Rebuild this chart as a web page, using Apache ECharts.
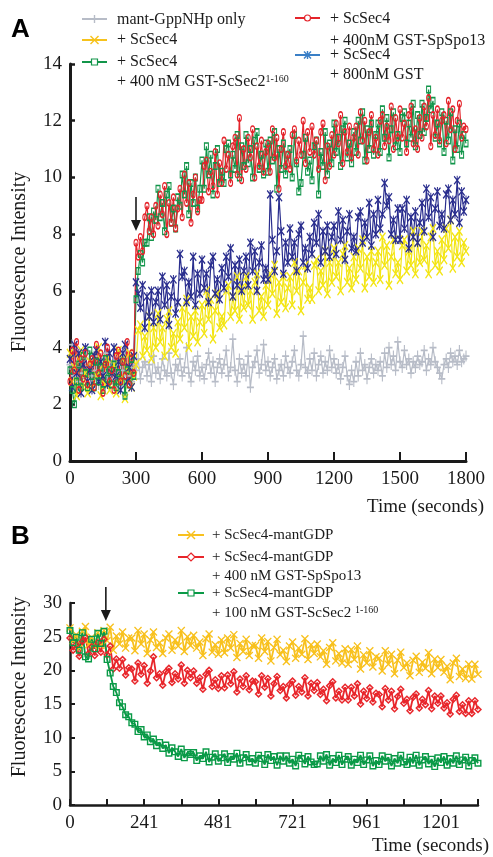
<!DOCTYPE html>
<html><head><meta charset="utf-8">
<script src="https://cdn.jsdelivr.net/npm/echarts@6/dist/echarts.min.js"></script>
<style>html,body{margin:0;padding:0;background:#fff}#c{width:493px;height:857px}</style>
</head><body><div id="c"></div>
<script>
// ---------- Panel A (time step 10 s, 0..1800) ----------
const STEP_A = 10;
const xTicksA = [0, 300, 600, 900, 1200, 1500, 1800];
const grayA = [
3.4,4.1,3.0,3.3,2.8,3.5,3.1,3.6,2.9,3.3,
3.0,3.7,3.2,2.7,3.4,3.1,3.8,3.0,3.3,2.9,
3.5,3.1,2.6,3.4,3.2,3.9,3.0,3.3,2.8,3.4,
3.2,3.6,2.9,3.3,3.5,3.0,3.4,2.8,3.7,3.1,
3.3,2.9,3.6,3.2,3.0,3.8,3.1,2.7,3.4,3.2,
3.6,3.0,3.3,4.0,3.1,2.8,3.5,3.2,3.7,3.0,
3.3,2.9,3.4,3.8,3.1,3.5,2.8,3.3,3.6,3.1,
3.4,3.9,3.0,3.3,4.3,3.2,2.8,3.6,3.1,3.4,
3.0,3.7,2.6,3.3,3.5,3.9,3.1,3.4,4.1,3.2,
3.5,3.0,3.3,3.6,2.9,3.2,3.4,3.0,3.7,3.3,
3.1,3.5,3.9,3.2,3.0,3.4,4.4,3.3,3.1,3.6,
3.2,3.8,3.0,3.4,3.7,3.1,3.5,3.2,3.9,3.3,
3.6,3.1,3.4,2.9,3.3,3.7,3.0,2.7,3.2,2.8,
3.5,3.0,3.8,3.2,3.4,2.9,3.3,3.6,3.1,3.4,
3.2,3.5,3.0,3.8,3.3,4.0,3.4,3.7,3.2,4.2,
3.5,3.3,3.9,3.4,3.6,3.1,3.5,3.3,3.7,3.4,
3.5,3.9,3.2,3.6,3.4,4.0,3.5,3.3,3.1,2.9,
3.4,3.6,3.3,3.8,3.5,3.7,3.4,3.9,3.5,3.6,
3.7];
const yellowA = [
3.8,2.8,3.3,2.3,3.6,3.9,2.6,3.1,2.4,3.5,
2.6,3.7,3.0,4.0,2.3,3.4,2.7,3.6,2.5,3.2,
3.4,2.4,3.9,2.9,3.6,2.2,3.2,3.8,2.6,3.0,
3.4,4.6,4.8,3.7,4.4,3.9,5.1,3.6,4.7,4.0,
5.2,4.2,4.7,3.7,5.0,5.3,4.0,4.5,3.8,4.9,
4.3,5.4,4.7,5.7,4.0,5.1,4.4,5.3,4.2,4.9,
5.5,4.5,6.0,5.0,5.7,4.3,5.3,5.9,4.7,5.1,
4.8,6.0,6.2,5.1,5.8,5.3,6.5,5.0,6.1,5.4,
6.5,5.5,6.0,5.0,6.3,6.6,5.3,5.8,5.1,6.2,
5.5,6.6,5.9,6.9,5.2,6.3,5.6,6.5,5.4,6.1,
6.5,5.5,7.0,6.0,6.7,5.3,6.3,6.9,5.7,6.1,
5.7,6.9,7.1,6.0,6.7,6.2,7.4,5.9,7.0,6.3,
7.5,6.5,7.0,6.0,7.3,7.6,6.3,6.8,6.1,7.2,
6.4,7.5,6.8,7.8,6.1,7.2,6.5,7.4,6.3,7.0,
7.4,6.4,7.9,6.9,7.6,6.2,7.2,7.8,6.6,7.0,
6.4,7.6,7.8,6.7,7.4,6.9,8.1,6.6,7.7,7.0,
8.1,7.1,7.6,6.6,7.9,8.2,6.9,7.4,6.7,7.8,
7.1,8.2,7.5,8.5,6.8,7.9,7.2,8.1,7.0,7.7,
7.4];
const blueA = [
3.6,2.6,4.1,3.1,3.8,2.4,3.4,4.0,2.8,3.2,
2.5,3.7,3.9,2.8,3.5,3.0,4.2,2.7,3.8,3.1,
4.0,3.0,3.5,2.5,3.8,4.1,2.8,3.3,2.6,3.7,
6.3,5.9,5.4,6.2,4.7,5.8,5.1,6.0,4.9,5.6,
6.0,5.0,6.5,5.5,6.2,4.8,5.8,6.4,5.2,5.6,
7.3,6.5,6.7,5.6,6.3,5.8,7.2,5.5,6.6,5.9,
7.1,6.1,6.6,5.6,6.9,7.2,5.9,6.4,5.7,6.8,
6.1,7.2,6.5,7.5,5.8,6.9,6.2,7.1,6.0,6.7,
7.2,6.2,7.7,6.7,7.4,6.0,7.0,7.6,6.4,6.8,
6.4,9.4,7.8,6.7,7.4,9.3,8.1,6.6,7.7,7.0,
8.2,7.2,7.7,6.7,8.0,8.3,7.0,7.5,6.8,7.9,
7.3,8.4,7.7,8.7,7.0,8.1,7.4,8.3,7.2,7.9,
8.3,7.3,8.8,7.8,8.5,7.1,8.1,8.7,7.5,7.9,
7.4,8.6,8.8,7.7,8.4,7.9,9.1,7.6,8.7,8.0,
9.2,8.2,8.7,9.8,9.0,9.3,8.0,8.5,7.8,8.9,
7.8,8.9,8.2,9.2,7.5,8.6,7.9,8.8,7.7,8.4,
9.1,8.1,9.6,8.6,9.3,7.9,8.9,9.5,8.3,8.7,
8.2,9.4,9.6,8.5,9.2,8.7,9.9,8.4,9.5,8.8,
9.2];
const greenA = [
3.2,2.5,2.0,2.8,3.4,2.6,3.7,3.1,2.6,3.9,
3.0,2.6,3.5,2.8,3.3,2.5,3.6,2.9,3.2,2.7,
3.4,2.6,3.1,2.8,3.5,2.3,3.2,2.7,3.6,3.0,
5.7,6.7,7.3,7.0,7.7,7.7,8.6,7.9,8.8,8.5,
9.6,8.6,9.1,8.1,9.4,9.7,8.4,8.9,8.2,9.3,
9.0,10.1,9.4,10.4,8.7,9.8,9.1,10.0,8.9,9.6,
10.6,9.6,11.1,10.1,10.8,9.4,10.4,11.0,9.8,10.2,
9.8,11.0,11.2,10.1,10.8,10.3,11.5,10.0,11.1,10.4,
11.5,10.5,11.0,10.0,11.3,11.6,10.3,10.8,10.1,11.2,
10.2,11.3,10.6,11.6,9.6,11.0,10.3,11.2,10.1,10.8,
11.0,10.0,11.5,10.5,9.5,9.8,10.8,11.4,10.2,10.6,
9.9,11.1,11.3,9.4,10.9,10.4,11.6,10.1,11.2,10.5,
11.9,10.9,11.4,10.4,11.7,12.0,10.7,11.2,10.5,11.6,
10.9,12.0,11.3,12.3,10.6,11.7,11.0,11.9,10.8,11.5,
11.9,10.9,12.4,11.4,12.1,10.7,11.7,12.3,11.1,11.5,
10.9,12.1,12.3,11.2,11.9,11.4,12.6,11.1,12.2,11.5,
12.6,11.6,12.1,13.1,12.4,12.7,11.4,11.9,11.2,12.3,
10.9,12.0,11.3,12.3,10.6,11.7,11.0,11.9,10.8,11.5,
11.2];
const redA = [
2.8,3.9,3.2,4.2,2.5,3.6,2.9,3.8,2.7,3.4,
3.6,2.6,4.1,3.1,3.8,2.4,3.4,4.0,2.8,3.2,
2.5,3.7,3.9,2.8,3.5,3.0,4.2,2.7,3.8,3.1,
7.7,7.2,7.9,7.4,8.6,9.0,8.1,8.6,8.0,9.0,
8.3,9.4,8.7,9.7,8.0,9.1,8.4,9.3,8.2,8.9,
9.6,8.6,10.1,9.1,9.8,8.4,9.4,10.0,8.8,9.2,
9.2,10.4,10.6,9.5,10.2,9.7,10.9,9.4,10.5,9.8,
11.3,10.3,10.8,9.8,11.1,11.4,10.1,12.1,9.9,11.0,
10.3,11.4,10.7,11.7,10.0,11.1,10.4,11.3,10.2,10.9,
11.2,10.2,11.7,10.7,11.4,9.6,11.0,11.6,10.4,10.8,
10.3,11.5,11.7,10.6,11.3,10.8,12.0,10.5,11.6,10.9,
11.8,10.8,11.3,10.3,11.6,11.9,9.9,11.1,10.4,11.5,
10.8,11.9,11.2,12.2,10.5,11.6,10.9,11.8,10.7,11.4,
11.8,10.8,12.3,11.3,12.0,10.6,11.6,12.2,11.0,11.4,
10.8,12.0,12.2,11.1,11.8,11.3,12.5,11.0,12.1,11.4,
12.4,11.4,11.9,10.9,12.2,12.5,11.2,11.7,11.0,12.1,
11.4,12.5,11.8,12.8,11.1,12.2,11.5,12.4,11.3,12.0,
12.2,11.2,12.7,11.7,12.4,11.0,12.0,12.6,11.4,11.8,
11.7];

// ---------- Panel B (time step 10 s, 0..1320) ----------
const STEP_B = 10;
const xTickLabelsB = ['0', '241', '481', '721', '961', '1201'];
const yellowB = [
26.3,24.4,25.3,23.3,25.8,26.5,23.8,24.9,23.5,25.6,
23.7,25.9,24.4,26.4,23.0,25.1,23.9,25.7,23.3,24.8,
24.8,22.9,25.9,23.9,25.4,22.5,24.5,25.7,23.4,24.1,
22.5,24.8,25.4,23.0,24.5,23.6,25.9,22.8,25.0,23.7,
25.2,23.3,24.2,22.2,24.7,25.4,22.7,23.8,22.4,24.5,
22.6,24.8,23.3,25.3,21.9,24.0,22.8,24.6,22.2,23.7,
23.7,21.8,24.8,22.8,24.3,21.4,23.4,24.6,22.3,23.0,
21.3,23.6,24.2,21.8,23.3,22.4,24.7,21.6,23.8,22.5,
23.9,22.0,22.9,20.9,23.4,24.1,21.4,22.5,21.1,23.2,
20.9,23.1,21.6,23.6,20.2,22.3,21.1,22.9,20.5,22.0,
21.8,19.9,22.9,20.9,22.4,19.5,21.5,22.7,20.4,21.1,
19.2,21.5,22.1,19.7,21.2,20.3,22.6,19.5,21.7,20.4,
21.6,19.7,20.6,18.6,21.1,21.8,19.1,20.2,18.8,20.9,
18.7,20.9,19.4];
const redB = [
24.8,23.0,23.8,22.1,24.3,24.9,22.5,23.5,22.2,24.1,
22.7,24.6,22.3,23.6,20.2,21.7,20.3,21.6,19.3,20.4,
20.2,18.4,21.1,19.4,20.7,18.1,19.9,22.0,18.9,19.5,
17.8,19.8,20.3,18.2,19.5,18.7,20.8,18.1,20.0,18.9,
19.9,18.1,18.9,17.2,19.4,20.0,17.6,18.6,17.3,19.2,
17.4,19.3,18.0,19.8,16.8,18.7,17.6,19.2,17.1,18.4,
18.3,16.5,19.2,17.5,18.8,16.2,18.0,19.1,17.0,17.6,
15.9,17.9,18.4,16.3,17.6,16.8,18.9,16.2,18.1,17.0,
18.2,16.4,17.2,15.5,17.7,18.3,15.9,16.9,15.6,17.5,
15.6,17.5,16.2,18.0,15.0,16.9,15.8,17.4,15.3,16.6,
16.4,14.6,17.3,15.6,16.9,14.3,16.1,17.2,15.1,15.7,
14.0,16.0,16.5,14.4,15.7,14.9,17.0,14.3,16.2,15.1,
16.2,14.4,15.2,13.5,15.7,16.3,13.9,14.9,13.6,15.5,
13.6,15.5,14.2];
const greenB = [
25.9,24.1,24.9,23.0,25.6,22.0,21.7,24.6,23.2,25.5,
24.0,25.8,21.6,19.6,17.6,16.7,15.2,14.6,13.4,13.1,
12.2,12.0,10.9,11.2,10.1,10.4,9.4,9.8,8.8,9.3,
8.4,8.9,7.7,8.5,7.9,7.2,8.3,7.0,7.8,7.5,
7.8,6.6,7.3,6.9,7.9,6.4,7.1,7.6,6.5,7.0,
7.6,6.3,7.2,6.8,7.7,6.2,7.0,7.5,6.4,6.9,
6.2,7.4,6.9,6.0,7.5,6.6,7.2,5.9,7.3,6.5,
7.3,6.2,6.8,5.8,7.4,6.9,6.1,7.2,6.4,6.0,
6.1,7.3,6.5,7.5,5.9,6.9,6.3,7.4,6.0,6.8,
7.2,5.9,6.8,6.3,7.4,6.0,6.7,7.3,5.8,6.6,
6.0,7.3,6.5,7.1,5.8,6.9,6.2,7.4,6.4,6.0,
7.1,6.2,7.4,5.9,6.7,7.2,6.1,6.8,5.7,7.0,
6.3,7.2,5.9,6.9,6.2,7.3,6.0,6.7,7.1,5.8,
6.6,7.0,6.2];

const FONT = "'Liberation Serif','Times New Roman',serif";
const SANS = "'Liberation Sans',Arial,sans-serif";
const INK = '#1a1a1a';

const SYM = {
  plus: 'path://M4.2,0H5.8V4.2H10V5.8H5.8V10H4.2V5.8H0V4.2H4.2Z',
  cross: 'path://M0,1.2L1.2,0L5,3.8L8.8,0L10,1.2L6.2,5L10,8.8L8.8,10L5,6.2L1.2,10L0,8.8L3.8,5Z',
  star: 'path://M0,1.2L1.2,0L5,3.8L8.8,0L10,1.2L6.2,5L10,8.8L8.8,10L5,6.2L1.2,10L0,8.8L3.8,5ZM4.3,0H5.7V10H4.3Z',
  square: 'path://M0,0H10V10H0ZM2,2V8H8V2Z',
  circle: 'path://M5,0A5,5,0,1,1,5,10A5,5,0,1,1,5,0ZM5,2A3,3,0,1,0,5,8A3,3,0,1,0,5,2Z',
  diamond: 'path://M5,0L10,5L5,10L0,5ZM5,2.6L2.6,5L5,7.4L7.4,5Z'
};

const C = {
  gray: '#b7bcc7', yellowA: '#f3e514', navy: '#2a2e8e', green: '#12954a', red: '#e4242b',
  legYellow: '#f6c21c', legBlue: '#3a7fc6',
  yellowB: '#f8c11e', redB: '#e8262b', greenB: '#0a9a47'
};

function pairs(arr, step) { return arr.map((v, i) => [i * step, v]); }
function ser(name, data, step, grid, color, symbol, size, lw) {
  return {
    name, type: 'line', xAxisIndex: grid, yAxisIndex: grid,
    data: pairs(data, step), symbol: symbol, symbolSize: size, showAllSymbol: true,
    lineStyle: { width: lw || 1, color }, itemStyle: { color }, emphasis: { disabled: true },
    animation: false
  };
}

const axisCommon = (w) => ({
  axisLine: { show: true, onZero: false, lineStyle: { color: INK, width: w } },
  splitLine: { show: false }
});

const chart = echarts.init(document.getElementById('c'), null, { renderer: 'canvas' });

const option = {
  backgroundColor: '#fff',
  animation: false,
  grid: [
    { left: 70, top: 64, width: 396, height: 397 },
    { left: 70, top: 603, width: 408, height: 202 }
  ],
  xAxis: [
    Object.assign(axisCommon(3), {
      gridIndex: 0, type: 'value', min: xTicksA[0], max: xTicksA[xTicksA.length - 1], interval: 300,
      axisTick: { inside: true, length: 9, lineStyle: { width: 2, color: INK } },
      axisLabel: { fontSize: 19, fontFamily: FONT, color: INK, margin: 9, formatter: (v) => String(v) }
    }),
    Object.assign(axisCommon(2.5), {
      gridIndex: 1, type: 'value', min: 0, max: 1320, interval: 120,
      axisTick: { inside: true, length: 6, lineStyle: { width: 2, color: INK } },
      axisLabel: {
        fontSize: 19, fontFamily: FONT, color: INK, margin: 9,
        formatter: (v) => (v % 240 === 0 ? xTickLabelsB[v / 240] || '' : '')
      }
    })
  ],
  yAxis: [
    Object.assign(axisCommon(3), {
      gridIndex: 0, type: 'value', min: 0, max: 14, interval: 2,
      axisTick: { inside: true, length: 5, lineStyle: { width: 2.5, color: INK } },
      axisLabel: { fontSize: 19, fontFamily: FONT, color: INK, margin: 8 }
    }),
    Object.assign(axisCommon(2.5), {
      gridIndex: 1, type: 'value', min: 0, max: 30, interval: 5,
      axisTick: { inside: true, length: 5, lineStyle: { width: 2, color: INK } },
      axisLabel: { fontSize: 19, fontFamily: FONT, color: INK, margin: 8 }
    })
  ],
  series: [
    ser('mant-GppNHp only', grayA, STEP_A, 0, C.gray, SYM.plus, [7, 11], 1.2),
    ser('+ ScSec4', yellowA, STEP_A, 0, C.yellowA, SYM.cross, [7, 10], 1.2),
    ser('+ ScSec4 + 800nM GST', blueA, STEP_A, 0, C.navy, SYM.star, [7, 9], 1.2),
    ser('+ ScSec4 + 400 nM GST-ScSec2', greenA, STEP_A, 0, C.green, SYM.square, [5, 8], 1.2),
    ser('+ ScSec4 + 400nM GST-SpSpo13', redA, STEP_A, 0, C.red, SYM.circle, [5, 8], 1.2),
    ser('+ ScSec4-mantGDP', yellowB, STEP_B, 1, C.yellowB, SYM.cross, [8, 8], 1.8),
    ser('+ ScSec4-mantGDP + 400 nM GST-SpSpo13', redB, STEP_B, 1, C.redB, SYM.diamond, [8, 8], 1.8),
    ser('+ ScSec4-mantGDP + 100 nM GST-ScSec2', greenB, STEP_B, 1, C.greenB, SYM.square, [7, 7], 1.8)
  ]
};
chart.setOption(option);

// ---------- annotations, legends, titles ----------
function txt(x, y, text, size, opts) {
  opts = opts || {};
  return {
    type: 'text', x, y, z: 100, rotation: opts.rotation || 0,
    style: {
      text, font: (opts.bold ? 'bold ' : '') + size + 'px ' + (opts.family || FONT),
      fill: opts.fill || INK,
      align: opts.align || 'left', textAlign: opts.align || 'left',
      verticalAlign: 'middle', textVerticalAlign: 'middle',
      rich: opts.rich
    }
  };
}
function marker(cx, cy, color, kind) {
  const ln = (x1, y1, x2, y2) => ({ type: 'line', z: 101, shape: { x1, y1, x2, y2 }, style: { stroke: color, lineWidth: 1.4 } });
  if (kind === 'plus') return [ln(cx - 4, cy, cx + 4, cy), ln(cx, cy - 4, cx, cy + 4)];
  if (kind === 'cross') return [ln(cx - 4, cy - 4, cx + 4, cy + 4), ln(cx - 4, cy + 4, cx + 4, cy - 4)];
  if (kind === 'star') return [ln(cx - 3.5, cy - 3.5, cx + 3.5, cy + 3.5), ln(cx - 3.5, cy + 3.5, cx + 3.5, cy - 3.5), ln(cx, cy - 4, cx, cy + 4)];
  if (kind === 'square') return [{ type: 'rect', z: 101, shape: { x: cx - 3, y: cy - 3, width: 6, height: 6 }, style: { fill: '#fff', stroke: color, lineWidth: 1.2 } }];
  if (kind === 'circle') return [{ type: 'circle', z: 101, shape: { cx, cy, r: 3 }, style: { fill: '#fff', stroke: color, lineWidth: 1.2 } }];
  if (kind === 'diamond') return [{ type: 'polygon', z: 101, shape: { points: [[cx, cy - 4], [cx + 4, cy], [cx, cy + 4], [cx - 4, cy]] }, style: { fill: '#fff', stroke: color, lineWidth: 1.2 } }];
  return [];
}
function legIcon(x1, x2, y, color, kind) {
  return [{ type: 'line', z: 100, shape: { x1, y1: y, x2, y2: y }, style: { stroke: color, lineWidth: 2 } }]
    .concat(marker((x1 + x2) / 2, y, color, kind));
}
function arrow(x, y1, y2) {
  return [
    { type: 'line', z: 100, shape: { x1: x, y1, x2: x, y2: y2 - 6 }, style: { stroke: INK, lineWidth: 1.6 } },
    { type: 'polygon', z: 100, shape: { points: [[x - 5, y2 - 11], [x + 5, y2 - 11], [x, y2]] }, style: { fill: INK } }
  ];
}
const sup = { s: { font: '10px ' + FONT, fill: INK, verticalAlign: 'top', padding: [0, 0, 6, 0] } };

const ax = chart.convertToPixel({ gridIndex: 0 }, [300, 0])[0];
const bx = chart.convertToPixel({ gridIndex: 1 }, [116, 0])[0];

let g = [];
g.push(txt(11, 30, 'A', 26, { bold: true, family: SANS, fill: '#000' }));
g.push(txt(11, 537, 'B', 26, { bold: true, family: SANS, fill: '#000' }));
g.push(txt(20, 262, 'Fluorescence Intensity', 20, { align: 'center', rotation: Math.PI / 2 }));
g.push(txt(20, 687, 'Fluorescence Intensity', 20, { align: 'center', rotation: Math.PI / 2 }));
g.push(txt(484, 507, 'Time (seconds)', 19, { align: 'right' }));
g.push(txt(489, 846, 'Time (seconds)', 19, { align: 'right' }));
// legend A
g = g.concat(legIcon(82, 107, 19, C.gray, 'plus'));
g.push(txt(117, 20, 'mant-GppNHp only', 16));
g = g.concat(legIcon(82, 107, 40, C.legYellow, 'cross'));
g.push(txt(117, 40, '+ ScSec4', 16));
g = g.concat(legIcon(82, 107, 62, C.green, 'square'));
g.push(txt(117, 62, '+ ScSec4', 16));
g.push(txt(117, 82, '+ 400 nM GST-ScSec2{s|1-160}', 16, { rich: sup }));
g = g.concat(legIcon(295, 320, 18, C.red, 'circle'));
g.push(txt(330, 19, '+ ScSec4', 16));
g.push(txt(330, 41, '+ 400nM GST-SpSpo13', 16));
g = g.concat(legIcon(295, 320, 55, C.legBlue, 'star'));
g.push(txt(330, 55, '+ ScSec4', 16));
g.push(txt(330, 75, '+ 800nM GST', 16));
// legend B
g = g.concat(legIcon(178, 204, 535, C.yellowB, 'cross'));
g.push(txt(212, 535, '+ ScSec4-mantGDP', 15));
g = g.concat(legIcon(178, 204, 557, C.redB, 'diamond'));
g.push(txt(212, 557, '+ ScSec4-mantGDP', 15));
g.push(txt(212, 576, '+ 400 nM GST-SpSpo13', 15));
g = g.concat(legIcon(178, 204, 593, C.greenB, 'square'));
g.push(txt(212, 593, '+ ScSec4-mantGDP', 15));
g.push(txt(212, 613, '+ 100 nM GST-ScSec2 {s|1-160}', 15, { rich: sup }));
// arrows
g = g.concat(arrow(ax, 197, 231));
g = g.concat(arrow(bx, 587, 621));

chart.setOption({ graphic: { elements: g } });
</script>
</body></html>
